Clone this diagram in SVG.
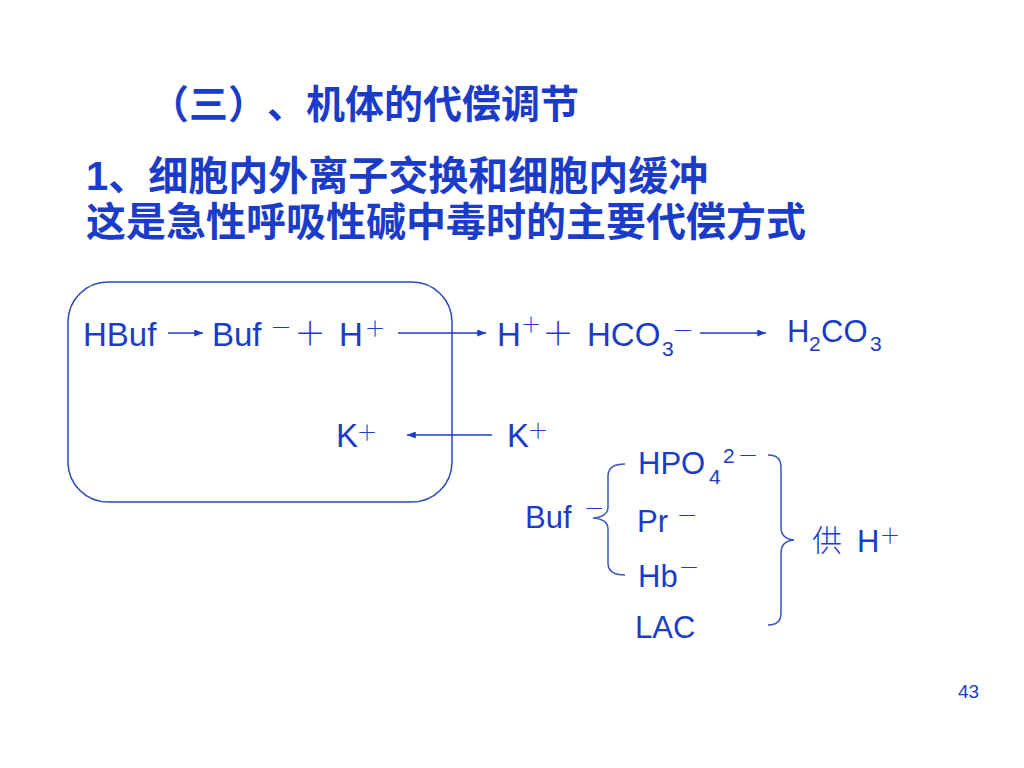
<svg xmlns="http://www.w3.org/2000/svg" width="1024" height="768" viewBox="0 0 1024 768">
<defs>
<style>
text{fill:#1a3cc8;font-family:"Liberation Sans","Noto Sans CJK SC",sans-serif;}
.h{font-weight:bold;font-family:"Liberation Sans","Noto Sans CJK SC",sans-serif;}
.t{font-size:33px;}
.b{font-size:31px;}
.s{font-size:21px;}
.cj{font-family:"Noto Sans CJK SC",sans-serif;font-weight:300;}
.ln{stroke:#1a3cc8;stroke-width:1.6;fill:none;}
.br{stroke:#3a55c0;stroke-width:1.5;fill:none;}
</style>
<marker id="ah" viewBox="0 0 10 8" refX="10" refY="4" markerWidth="9" markerHeight="7" markerUnits="userSpaceOnUse" orient="auto">
<path d="M0,0 L10,4 L0,8 z" fill="#1a3cc8"/>
</marker>
</defs>
<rect width="1024" height="768" fill="#ffffff"/>

<g id="title">
<text class="h" x="150 189 228 267 306 345 384 423 462 501 540" y="118" font-size="39">（三）、机体的代偿调节</text>
<text class="h" x="86" y="190" font-size="40">1、细胞内外离子交换和细胞内缓冲</text>
<text class="h" x="86" y="236" font-size="40">这是急性呼吸性碱中毒时的主要代偿方式</text>
</g>

<g id="cell">
<rect x="68" y="282" width="384" height="220" rx="40" ry="40" fill="none" stroke="#2b45b8" stroke-width="1.5"/>
</g>

<g id="hbuf"><text class="t" x="83" y="346">HBuf</text></g>
<g id="buf-h">
<text class="t" x="212" y="346">Buf</text>
<text class="cj" x="281" y="335" font-size="22" text-anchor="middle">－</text>
<text class="cj" x="310" y="345" font-size="32" text-anchor="middle">＋</text>
<text class="t" x="339" y="346">H</text>
<text class="cj" x="375" y="336" font-size="21" text-anchor="middle">＋</text>
</g>
<g id="h-hco3">
<text class="t" x="497" y="346">H</text>
<text class="cj" x="531" y="332" font-size="21" text-anchor="middle">＋</text>
<text class="cj" x="558" y="345" font-size="32" text-anchor="middle">＋</text>
<text class="t" x="587" y="346">HCO</text>
<text class="s" x="662" y="356">3</text>
<text class="cj" x="683" y="338" font-size="22" text-anchor="middle">－</text>
</g>
<g id="h2co3">
<text class="b" x="787" y="342">H</text>
<text class="s" x="809" y="351">2</text>
<text class="b" x="821" y="342">CO</text>
<text class="s" x="870" y="351">3</text>
</g>
<g id="k-in">
<text class="t" x="336" y="447">K</text>
<text class="cj" x="367" y="440" font-size="21" text-anchor="middle">＋</text>
</g>
<g id="k-out">
<text class="t" x="507" y="447">K</text>
<text class="cj" x="538" y="438" font-size="21" text-anchor="middle">＋</text>
</g>

<g id="buffers">
<text class="b" x="525" y="528">Buf</text>
<text class="cj" x="594" y="516" font-size="21" text-anchor="middle">－</text>
<text class="b" x="638" y="474">HPO</text>
<text class="s" x="709" y="484" font-size="20">4</text>
<text class="s" x="723" y="463" font-size="20">2</text>
<text class="cj" x="748" y="463" font-size="21" text-anchor="middle">－</text>
<text class="b" x="637" y="532">Pr</text>
<text class="cj" x="687" y="523" font-size="21" text-anchor="middle">－</text>
<text class="b" x="638" y="587">Hb</text>
<text class="cj" x="689" y="575" font-size="21" text-anchor="middle">－</text>
<text class="b" x="635" y="638">LAC</text>
</g>
<g id="supply">
<text class="cj" x="812" y="551" font-size="30">供</text>
<text class="b" x="857" y="552">H</text>
<text class="cj" x="890" y="543" font-size="21" text-anchor="middle">＋</text>
</g>

<g id="connectors">
<line class="ln" x1="168" y1="333" x2="203" y2="333" marker-end="url(#ah)"/>
<line class="ln" x1="398" y1="333" x2="486" y2="333" marker-end="url(#ah)"/>
<line class="ln" x1="700" y1="333" x2="766" y2="333" marker-end="url(#ah)"/>
<line class="ln" x1="492" y1="435" x2="407" y2="435" marker-end="url(#ah)"/>
<path class="br" d="M625,464 Q608,464 608,476 L608,507 Q608,517 593,518 Q608,519 608,529 L608,563 Q608,575 625,575"/>
<path class="br" d="M768,455 Q781,455 781,467 L781,527 Q781,539 794,540 Q781,541 781,553 L781,613 Q781,625 768,625"/>
</g>

<g id="page"><text x="958" y="698" font-size="19">43</text></g>
</svg>
